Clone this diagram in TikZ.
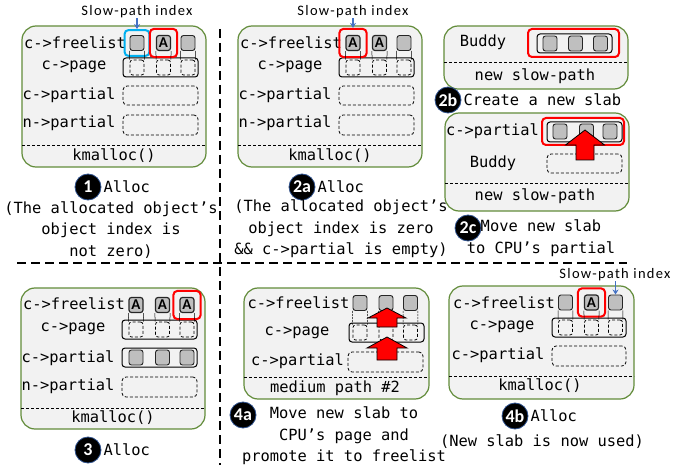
\documentclass[tikz,border=0pt]{standalone}
\usepackage{fontspec}
\newfontfamily\monofont{DejaVu Sans Mono}
\newfontfamily\hintfont{Carlito}[LetterSpace=9]
\newfontfamily\tagfont{Carlito}
\usetikzlibrary{positioning,fit,arrows.meta}

\definecolor{panelgreen}{RGB}{98,140,58}
\definecolor{panelgrey}{RGB}{242,242,242}
\definecolor{objgrey}{RGB}{191,191,191}
\definecolor{pickblue}{RGB}{0,176,240}
\definecolor{arrowblue}{RGB}{68,114,196}
\definecolor{badgeedge}{RGB}{47,82,143}

\tikzset{
    panel/.style = {draw=panelgreen, fill=panelgrey, line width=1.2pt, rounded corners=14pt},
    sep/.style = {line width=0.9pt, dash pattern=on 3pt off 2pt},
    obj/.style = {draw=black!85, fill=objgrey, rounded corners=2.5pt, minimum width=14pt, minimum height=15pt, line width=0.9pt},
    objA/.style = {obj, line width=1.2pt, font=\tagfont\bfseries\fontsize{15}{15}\selectfont},
    ghost/.style = {draw, dash pattern=on 3pt off 2pt, rounded corners=2.5pt, minimum width=14pt, minimum height=15pt, line width=0.8pt},
    slab/.style = {draw, rounded corners=3pt, line width=1pt, minimum width=75pt, minimum height=19pt},
    noslab/.style = {draw, dash pattern=on 3pt off 2pt, rounded corners=4pt, line width=0.8pt, minimum width=75pt, minimum height=19pt},
    pick/.style = {draw=red, line width=2pt, rounded corners=4pt},
    bluepick/.style = {pick, draw=pickblue},
    badge/.style = {circle, fill=black, draw=badgeedge, line width=0.8pt, minimum size=26pt, text=white, font=\tagfont\bfseries\fontsize{18}{18}\selectfont},
    link/.style = {line width=0.5pt},
    hint/.style = {font=\hintfont\fontsize{14.5}{14.5}\selectfont},
    pointer/.style = {arrowblue, line width=1.4pt, -{Stealth[length=5pt,width=6pt]}},
    divider/.style = {line width=2.4pt, dash pattern=on 9pt off 5pt},
    push/.style = {fill=red, draw=black, line width=0.8pt, line join=miter}
}

\begin{document}
\begin{tikzpicture}[x=1pt, y=-1pt,
        every node/.style = {font=\monofont\fontsize{15.4}{21.5}\selectfont, align=center, inner sep=0pt}]
    \path[fill=white] (0,0) rectangle (674,465);
    \useasboundingbox (0,0) rectangle (674,465);

    % step 1
    \begin{scope}[shift={(22,26)}]
        \node[panel, minimum width=184pt, minimum height=141pt] (p1) at (92,70.5) {};
        \draw[sep] (0,119) -- (184,119);
        \node (p1kmalloc) at (92,130) {kmalloc()};
        \node (p1fl) at (53,17) {c->freelist};
        \node (p1pg) at (52,41) {c->page};
        \node (p1cp) at (47,69) {c->partial};
        \node (p1np) at (47,97) {n->partial};
        \node[obj] (p1o1) at (115,17) {};
        \node[objA] (p1o2) at (141.5,17) {A};
        \node[obj] (p1o3) at (166,17) {};
        \node[slab] (p1page) at (138.5,41.5) {};
        \node[ghost] (p1g1) at (115,41.5) {};
        \node[ghost] (p1g2) at (141.5,41.5) {};
        \node[ghost] (p1g3) at (166,41.5) {};
        \node[noslab] (p1part) at (138.5,69.5) {};
        \node[noslab, minimum height=20pt] (p1npart) at (138.5,99) {};
        \node[bluepick, fit=(p1o1), inner sep=5pt] (p1blue) {};
        \node[pick, fit=(p1o2), inner sep=6pt] (p1red) {};
    \end{scope}
    \foreach \i in {1,2,3} {
        \draw[link] (p1o\i.south west) -- (p1g\i.north west)
                    (p1o\i.south east) -- (p1g\i.north east);
    }
    \node[hint] (p1hint) at (137,12) {Slow-path index};
    \draw[pointer] (p1hint.south -| p1blue.north) -- (p1blue.north);
    \node[badge] (b1) at (88,187) {1};
    \node[right=2pt of b1] (t1) {Alloc};
    \node (c1) at (111,230) {(The allocated object’s\\object index is\\not zero)};

    % step 2a
    \begin{scope}[shift={(238,26)}]
        \node[panel, minimum width=184pt, minimum height=141pt] (p2a) at (92,70.5) {};
        \draw[sep] (0,119) -- (184,119);
        \node (p2akmalloc) at (92,130) {kmalloc()};
        \node (p2afl) at (53,17) {c->freelist};
        \node (p2apg) at (52,41) {c->page};
        \node (p2acp) at (47,69) {c->partial};
        \node (p2anp) at (47,97) {n->partial};
        \node[objA] (p2ao1) at (115,17) {A};
        \node[objA] (p2ao2) at (141.5,17) {A};
        \node[obj] (p2ao3) at (166,17) {};
        \node[slab] (p2apage) at (138.5,41.5) {};
        \node[ghost] (p2ag1) at (115,41.5) {};
        \node[ghost] (p2ag2) at (141.5,41.5) {};
        \node[ghost] (p2ag3) at (166,41.5) {};
        \node[noslab] (p2apart) at (138.5,69.5) {};
        \node[noslab, minimum height=20pt] (p2anpart) at (138.5,99) {};
        \node[pick, fit=(p2ao1), inner sep=6pt] (p2ared) {};
    \end{scope}
    \foreach \i in {1,2,3} {
        \draw[link] (p2ao\i.south west) -- (p2ag\i.north west)
                    (p2ao\i.south east) -- (p2ag\i.north east);
    }
    \node[hint] (p2ahint) at (353,12) {Slow-path index};
    \draw[pointer] (p2ahint.south -| p2ared.north) -- (p2ared.north);
    \node[badge] (b2a) at (302,187) {2a};
    \node[right=2pt of b2a] (t2a) {Alloc};
    \node (c2a) at (341,229) {(The allocated object’s\\object index is zero\\\&\& c->partial is empty)};

    % step 2b
    \begin{scope}[shift={(444,26)}]
        \node[panel, minimum width=184pt, minimum height=63pt] (p2b) at (92,31.5) {};
        \draw[sep] (0,36) -- (184,36);
        \node (p2bslow) at (91,50) {new slow-path};
        \node (p2bbuddy) at (39,16) {Buddy};
        \node[slab] (p2bslab) at (130.5,17.5) {};
        \node[obj] (p2bo1) at (106,17.5) {};
        \node[obj] (p2bo2) at (131.5,17.5) {};
        \node[obj] (p2bo3) at (156.5,17.5) {};
        \node[pick, minimum width=91pt, minimum height=28pt] (p2bred) at (129.5,17) {};
    \end{scope}
    \node[badge] (b2b) at (448,100) {2b};
    \node[right=2pt of b2b] (t2b) {Create a new slab};

    % step 2c
    \begin{scope}[shift={(445,113)}]
        \node[panel, minimum width=184pt, minimum height=98pt] (p2c) at (92,49) {};
        \draw[sep] (0,70) -- (184,70);
        \node (p2cslow) at (90,83) {new slow-path};
        \node (p2ccp) at (47.5,18) {c->partial};
        \node (p2cbuddy) at (48,50) {Buddy};
        \node[slab, minimum height=20pt] (p2cslab) at (139.5,19) {};
        \node[obj] (p2co1) at (115,18.5) {};
        \node[obj] (p2co2) at (141.5,18.5) {};
        \node[obj] (p2co3) at (165,18.5) {};
        \node[pick, minimum width=82pt, minimum height=27pt] (p2cred) at (138,18.5) {};
        \node[noslab] (p2cempty) at (139.5,50.5) {};
        \draw[push] (140,17) -- ++(19.5,15) -- ++(-10.5,0) -- ++(0,15) -- ++(-18,0) -- ++(0,-15) -- ++(-10.5,0) -- cycle;
    \end{scope}
    \node[badge] (b2c) at (468,228) {2c};
    \node (t2c) at (541,238) {Move new slab\\to CPU’s partial};

    % step 3
    \begin{scope}[shift={(21,288)}]
        \node[panel, minimum width=184pt, minimum height=141pt] (p3) at (92,70.5) {};
        \draw[sep] (0,120) -- (184,120);
        \node (p3kmalloc) at (92,130) {kmalloc()};
        \node (p3fl) at (53,16) {c->freelist};
        \node (p3pg) at (52,41) {c->page};
        \node (p3cp) at (47,70) {c->partial};
        \node (p3np) at (47,98) {n->partial};
        \node[objA] (p3o1) at (115,17) {A};
        \node[objA] (p3o2) at (141.5,17) {A};
        \node[objA] (p3o3) at (166,17) {A};
        \node[slab] (p3page) at (138.5,41.5) {};
        \node[ghost] (p3g1) at (115,41.5) {};
        \node[ghost] (p3g2) at (141.5,41.5) {};
        \node[ghost] (p3g3) at (166,41.5) {};
        \node[slab] (p3part) at (138.5,69.5) {};
        \node[obj] (p3p1) at (115,69.5) {};
        \node[obj] (p3p2) at (141.5,69.5) {};
        \node[obj] (p3p3) at (166,69.5) {};
        \node[noslab, minimum height=20pt] (p3npart) at (138.5,99) {};
        \node[pick, fit=(p3o3), inner sep=6pt] (p3red) {};
    \end{scope}
    \foreach \i in {1,2,3} {
        \draw[link] (p3o\i.south west) -- (p3g\i.north west)
                    (p3o\i.south east) -- (p3g\i.north east);
    }
    \node[badge] (b3) at (88,450) {3};
    \node[right=2pt of b3] (t3) {Alloc};

    % step 4a
    \begin{scope}[shift={(244,288)}]
        \node[panel, minimum width=185pt, minimum height=111pt] (p4a) at (92.5,55.5) {};
        \draw[sep] (0,89) -- (185,89);
        \node (p4amedium) at (91,100) {medium path \#2};
        \node (p4afl) at (54.5,15) {c->freelist};
        \node (p4apg) at (53,45) {c->page};
        \node (p4acp) at (53.5,73) {c->partial};
        \node[obj] (p4ao1) at (116,15) {};
        \node[obj] (p4ao2) at (142,15) {};
        \node[obj] (p4ao3) at (166.5,15) {};
        \node[slab] (p4apage) at (142.5,44.5) {};
        \node[ghost] (p4ag1) at (116,44.5) {};
        \node[ghost] (p4ag2) at (142,44.5) {};
        \node[ghost] (p4ag3) at (166.5,44.5) {};
        \node[noslab, minimum height=20pt] (p4apart) at (141.5,74) {};
    \end{scope}
    \foreach \i in {1,2,3} {
        \draw[link, dash pattern=on 2pt off 1pt] (p4ao\i.south west) -- (p4ag\i.north west)
                    (p4ao\i.south east) -- (p4ag\i.north east);
    }
    \begin{scope}[shift={(244,288)}]
        \draw[push] (143,20) -- ++(19,10) -- ++(-9,0) -- ++(0,9) -- ++(-20,0) -- ++(0,-9) -- ++(-9,0) -- cycle;
        \draw[push] (143,49) -- ++(20,11) -- ++(-10,0) -- ++(0,12) -- ++(-20,0) -- ++(0,-12) -- ++(-10,0) -- cycle;
    \end{scope}
    \node[badge] (b4a) at (243,415) {4a};
    \node (t4a) at (344,436) {Move new slab to\\CPU’s page and\\promote it to freelist};

    % step 4b
    \begin{scope}[shift={(449,286)}]
        \node[panel, minimum width=185pt, minimum height=113pt] (p4b) at (92.5,56.5) {};
        \draw[sep] (0,90) -- (185,90);
        \node (p4bkmalloc) at (91,100) {kmalloc()};
        \node (p4bfl) at (55,17) {c->freelist};
        \node (p4bpg) at (53,41) {c->page};
        \node (p4bcp) at (49,69) {c->partial};
        \node[obj] (p4bo1) at (116.5,16.5) {};
        \node[objA] (p4bo2) at (142.5,16.5) {A};
        \node[obj] (p4bo3) at (166.5,16.5) {};
        \node[slab, minimum width=74pt] (p4bpage) at (140,41.5) {};
        \node[ghost] (p4bg1) at (116.5,41.5) {};
        \node[ghost] (p4bg2) at (142.5,41.5) {};
        \node[ghost] (p4bg3) at (166.5,41.5) {};
        \node[noslab, minimum width=74pt, minimum height=20pt] (p4bpart) at (140,70) {};
        \node[pick, fit=(p4bo2), inner sep=6pt] (p4bred) {};
    \end{scope}
    \foreach \i in {1,2,3} {
        \draw[link] (p4bo\i.south west) -- (p4bg\i.north west)
                    (p4bo\i.south east) -- (p4bg\i.north east);
    }
    \node[hint] (p4bhint) at (615,275) {Slow-path index};
    \draw[pointer] (p4bhint.south -| p4bo3.north) -- (p4bo3.north);
    \node[badge] (b4b) at (515,416) {4b};
    \node[right=2pt of b4b] (t4b) {Alloc};
    \node (c4b) at (542,442) {(New slab is now used)};

    % dividers
    \draw[divider] (220,29) -- (220,465);
    \draw[divider] (17,263) -- (627,263);
\end{tikzpicture}
\end{document}
